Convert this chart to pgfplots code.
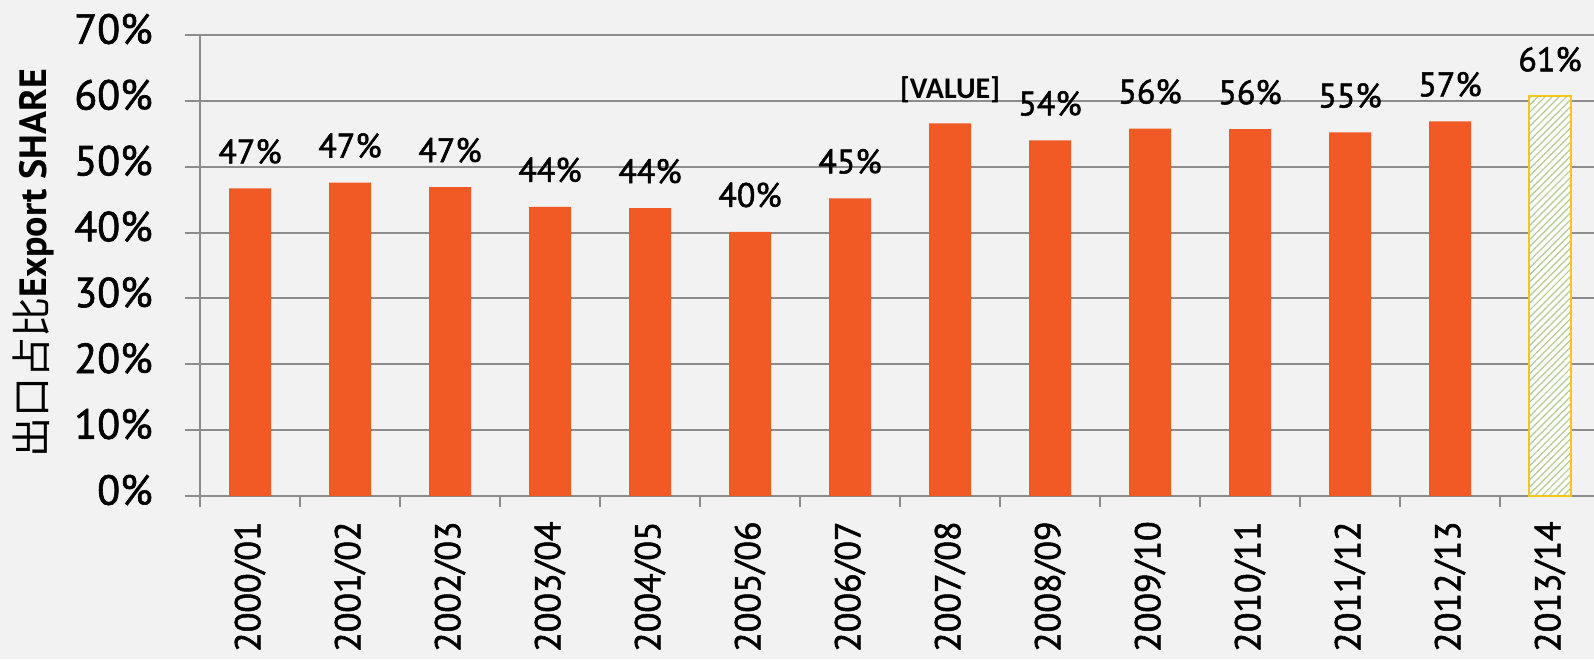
\documentclass[border=0pt]{standalone}
\usepackage{fontspec}
\setmainfont{PT Sans}
\newfontfamily\semi{PT Sans}[FakeBold=1.5]
\newfontfamily\cjk{Noto Sans CJK SC}
\newfontfamily\calib{Carlito}
\usepackage{pgfplots}
\pgfplotsset{compat=1.18}
\usetikzlibrary{patterns.meta}
\definecolor{barorange}{HTML}{F15A24}
\definecolor{bg}{HTML}{F2F2F2}
\definecolor{gridgray}{HTML}{8C8C8C}
\definecolor{hatchgreen}{HTML}{B3CB8F}
\definecolor{gold}{HTML}{F5C518}
\protected\def\pc{\%}
\protected\def\vlab{{\calib\bfseries\fontsize{15}{17}\selectfont[VALUE]}}
\begin{document}
\begin{tikzpicture}
\path[use as bounding box] (0,0) rectangle (797pt,-329.5pt);
\clip (0,0) rectangle (797pt,-329.5pt);
\fill[bg] (0,0) rectangle (797pt,-329.5pt);
\begin{axis}[
  at={(100pt,-248pt)}, anchor=south west,
  scale only axis, width=697pt, height=230.5pt,
  xmin=-0.5, xmax=13.44, ymin=0, ymax=70,
  axis lines=left, axis line style={-, gridgray, line width=1pt},
  ymajorgrids, grid style={gridgray, line width=1pt},
  tick style={gridgray, line width=1pt}, tick align=outside,
  major tick length=7.5pt, minor tick length=5.5pt,
  ytick={0,10,...,70},
  yticklabel={\pgfmathprintnumber{\tick}\%},
  xtick={0,...,13},
  xticklabels={2000/01,2001/02,2002/03,2003/04,2004/05,2005/06,2006/07,2007/08,2008/09,2009/10,2010/11,2011/12,2012/13,2013/14},
  major x tick style={draw=none},
  minor xtick={-0.5,0.5,...,12.5},
  /pgf/number format/assume math mode=true,
  xticklabel style={rotate=90, anchor=east, inner sep=0pt, font=\semi\fontsize{18}{20}\selectfont},
  xticklabel shift=5pt,
  yticklabel style={anchor=east, inner sep=0pt, yshift=3pt, font=\semi\fontsize{21}{24}\selectfont},
  yticklabel shift=16pt,
  ylabel={{\cjk\fontsize{20}{22}\selectfont 出口占比}{\bfseries\fontsize{19}{22}\selectfont Export SHARE}},
  every axis y label/.style={at={(axis description cs:-0.1198,0.505)}, rotate=90, anchor=center},
  ybar,
  nodes near coords, point meta=explicit symbolic,
  every node near coord/.append style={anchor=base, yshift=12.5pt, inner sep=0pt, text=black, font=\semi\fontsize{17}{20}\selectfont},
]
\addplot[ybar, bar width=21pt, bar shift=0pt, fill=barorange, draw=none] coordinates {
  (0,46.7) [47\pc]
  (1,47.6) [47\pc]
  (2,46.9) [47\pc]
  (3,43.9) [44\pc]
  (4,43.7) [44\pc]
  (5,40.1) [40\pc]
  (6,45.2) [45\pc]
  (7,56.6) [\vlab]
  (8,54.0) [54\pc]
  (9,55.8) [56\pc]
  (10,55.7) [56\pc]
  (11,55.2) [55\pc]
  (12,56.9) [57\pc]
};
\addplot[ybar, bar width=21pt, bar shift=0pt, preaction={fill=white}, pattern={Lines[angle=45,distance=2.5pt,line width=0.6pt]}, pattern color=hatchgreen, draw=gold, line width=1pt] coordinates {
  (13,60.7) [61\pc]
};
\end{axis}
\end{tikzpicture}
\end{document}
